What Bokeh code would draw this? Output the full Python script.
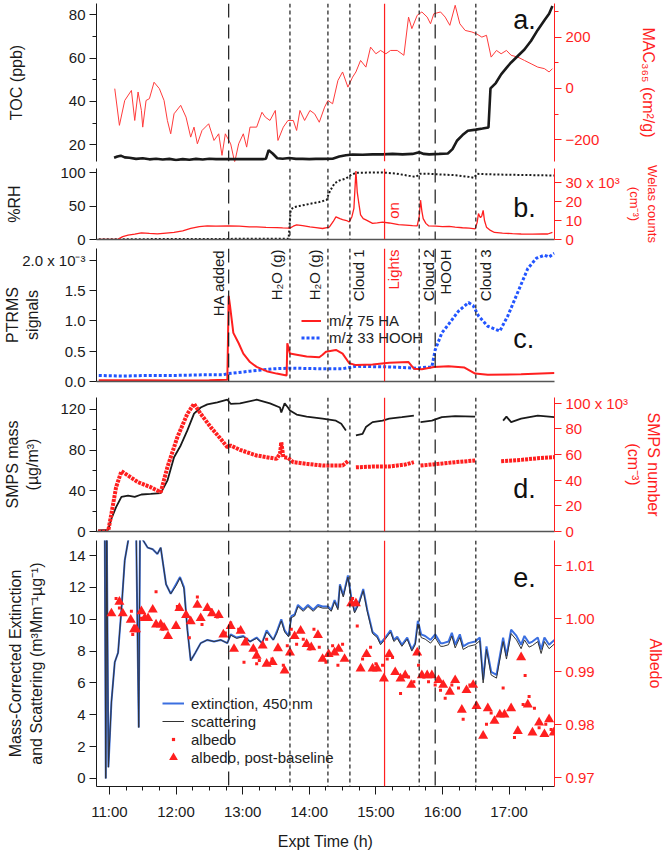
import math
from bokeh.plotting import figure
from bokeh.layouts import column
from bokeh.models import (Range1d, LinearAxis, SingleIntervalTicker, FixedTicker,
                          PrintfTickFormatter, Span, Label, Legend, LegendItem,
                          ColumnDataSource)
from bokeh.embed import file_html
from bokeh.resources import INLINE
from bokeh.core.properties import value

NaN = float("nan")

# ---------------- data (time in decimal hours) ----------------
events_t = [12.79, 13.71, 14.28, 14.61, 15.13, 15.65, 15.89, 16.50]
events_lbl = ["HA added", "H\u2082O (g)", "H\u2082O (g)", "Cloud 1", "Lights", "Cloud 2", "HOOH", "Cloud 3"]
events_kind = ["long", "short", "short", "short", "lights", "short", "long", "short"]

hour_ticks = [11, 12, 13, 14, 15, 16, 17]
hour_labels = ["11:00", "12:00", "13:00", "14:00", "15:00", "16:00", "17:00"]

# panel a
toc_t = [11.07, 11.12, 11.17, 11.23, 11.3, 11.4, 11.5, 11.6, 11.7, 11.8, 11.9, 12.0, 12.1, 12.2, 12.3,
         12.4, 12.5, 12.6, 12.7, 12.8, 12.9, 13.0, 13.1, 13.2, 13.3, 13.35, 13.39, 13.45, 13.52, 13.6,
         13.7, 13.8, 13.9, 14.0, 14.1, 14.2, 14.35, 14.45, 14.55, 14.65, 14.8, 14.95, 15.1, 15.25, 15.4,
         15.55, 15.65, 15.72, 15.8, 15.95, 16.08, 16.15, 16.22, 16.3, 16.38, 16.5, 16.6, 16.69, 16.72, 16.8,
         16.88, 16.96, 17.03, 17.13, 17.23, 17.33, 17.43, 17.53, 17.6, 17.65]
toc_v = [14.0, 14.6, 15.0, 14.2, 14.0, 13.5, 13.8, 13.3, 13.6, 13.2, 13.5, 13.0, 13.4, 13.1, 13.5,
         13.2, 13.6, 13.4, 13.4, 13.4, 13.4, 13.4, 13.4, 13.4, 13.4, 13.6, 17.5, 16.0, 13.8, 13.6,
         13.9, 13.5, 13.5, 13.4, 13.5, 13.5, 13.6, 14.6, 15.2, 15.5, 15.4, 15.6, 15.6, 15.8, 15.6,
         15.8, 16.6, 15.8, 15.6, 15.8, 16.0, 18.0, 22.0, 24.5, 26.5, 27.0, 27.5, 28.0, 46.0, 48.5,
         52.5, 55.5, 58.0, 61.0, 64.0, 68.0, 73.0, 77.5, 80.5, 84.0]

mac_t = [11.08, 11.15, 11.23, 11.33, 11.38, 11.43, 11.48, 11.50, 11.55, 11.60,
         11.67, 11.75, 11.82, 11.87, 11.92, 11.97, 12.07, 12.15, 12.22, 12.27,
         12.32, 12.39, 12.49, 12.57, 12.64, 12.69, 12.74, 12.82, 12.88, 12.94,
         13.01, 13.06, 13.11, 13.21, 13.29, 13.34, 13.41, 13.49, 13.53, 13.61,
         13.68, 13.76, 13.81, 13.86, 13.93, 14.01, 14.08, 14.15, 14.23, 14.28,
         14.35, 14.43, 14.50, 14.58, 14.65, 14.70, 14.77, 14.85, 14.92, 15.00,
         15.07, 15.15, 15.22, 15.32, 15.42, 15.49, 15.54, 15.62, 15.69, 15.77,
         15.82, 15.87, 15.97, 16.04, 16.11, 16.19, 16.26, 16.34, 16.44, 16.51,
         16.59, 16.66, 16.73, 16.81, 16.88, 16.96, 17.03, 17.13, 17.23, 17.33,
         17.43, 17.53, 17.60, 17.65]
mac_v = [-1, -144, -47, -8, -125, -14, -86, -151, -47, -40,
         24, -1, -47, -125, -177, -99, -66, -112, -190, -151,
         -216, -164, -138, -203, -177, -261, -177, -216, -288, -216,
         -177, -229, -151, -151, -93, -112, -125, -86, -203, -151,
         -125, -125, -164, -86, -125, -86, -99, -132, -73, -47,
         -60, 31, 64, 5, 44, 64, 109, 83, 161, 135,
         148, 135, 148, 148, 129, 278, 233, 285, 298, 278,
         252, 291, 298, 278, 246, 324, 252, 226, 220, 213,
         200, 207, 122, 148, 135, 148, 129, 122, 109, 96,
         83, 77, 64, 77]

# panel b
rh_t = [10.84, 11.5, 12.0, 12.5, 13.0, 13.5, 13.69, 13.72, 13.76, 13.85, 13.95, 14.05, 14.15, 14.26,
        14.29, 14.32, 14.38, 14.45, 14.55, 14.62, 14.7, 14.9, 15.1, 15.3, 15.5, 15.6, 15.66, 15.8,
        16.0, 16.2, 16.4, 16.47, 16.52, 16.8, 17.1, 17.4, 17.68]
rh_v = [0.5, 0.5, 0.8, 0.8, 1.0, 1.0, 1.2, 44, 48, 50, 52, 54, 56, 59,
        68, 74, 84, 88, 91, 96, 99.5, 100, 100, 98.5, 95, 93.5, 98, 98,
        97, 96, 93.5, 92, 98, 97, 96.5, 96, 95.5]

welas_t = [10.84, 11.13, 11.2, 11.28, 11.38, 11.48, 11.6, 11.72, 11.85, 11.97,
           12.1, 12.22, 12.35, 12.47, 12.6, 12.79, 12.95, 13.1, 13.21, 13.35,
           13.51, 13.6, 13.71, 13.76, 13.81, 13.9, 14.01, 14.1, 14.2, 14.3,
           14.36, 14.4, 14.46, 14.5, 14.56, 14.6, 14.64, 14.67, 14.7, 14.72,
           14.74, 14.77, 14.81, 14.85, 14.95, 15.02, 15.1, 15.2, 15.34, 15.45,
           15.55, 15.62, 15.65, 15.67, 15.69, 15.71, 15.75, 15.79, 15.9, 16.0,
           16.1, 16.19, 16.3, 16.4, 16.49, 16.52, 16.54, 16.56, 16.57, 16.59,
           16.61, 16.63, 16.66, 16.72, 16.78, 16.9, 17.05, 17.18, 17.35, 17.5,
           17.58, 17.65]
welas_v = [0.0, 0.2, 1.5, 2.3, 2.8, 3.5, 3.2, 3.0, 3.4, 3.7,
           4.5, 5.8, 6.8, 7.2, 7.0, 7.2, 7.0, 6.6, 6.7, 6.4,
           6.3, 6.1, 6.0, 7.0, 7.7, 7.3, 6.7, 6.3, 5.8, 6.5,
           9.5, 11.9, 11.0, 10.5, 10.0, 9.2, 12.0, 16.4, 36.0, 25.0,
           20.0, 13.0, 11.0, 10.3, 8.5, 8.8, 9.2, 8.7, 7.8, 7.6,
           7.3, 7.2, 12.0, 20.7, 15.0, 11.0, 8.5, 7.2, 7.0, 6.8,
           6.9, 6.5, 6.2, 6.0, 5.6, 9.0, 13.7, 12.0, 11.5, 12.5,
           15.3, 10.0, 6.5, 4.8, 3.7, 3.4, 3.1, 2.9, 2.8, 2.9,
           2.9, 3.8]

# panel c (x 10^-3)
ha_t = [10.84, 11.5, 12.0, 12.5, 12.77, 12.79, 12.81, 12.86, 12.94, 13.01, 13.11, 13.21, 13.36, 13.51,
        13.66, 13.67, 13.71, 13.81, 13.96, 14.15, 14.2, 14.25, 14.4, 14.5, 14.6, 14.7, 14.95, 15.2,
        15.49, 15.57, 15.69, 15.87, 16.09, 16.33, 16.49, 16.68, 17.18, 17.68]
ha_v = [0.02, 0.02, 0.015, 0.02, 0.03, 1.41, 1.25, 0.80, 0.63, 0.46, 0.32, 0.24, 0.17, 0.13,
        0.10, 0.63, 0.46, 0.44, 0.41, 0.40, 0.44, 0.49, 0.52, 0.46, 0.30, 0.27, 0.28, 0.31,
        0.32, 0.21, 0.20, 0.24, 0.25, 0.23, 0.13, 0.11, 0.12, 0.14]
hooh_t = [10.84, 11.2, 11.6, 12.0, 12.4, 12.7, 12.79, 13.11, 13.46, 13.71, 14.2, 14.5, 14.7, 15.2,
          15.59, 15.84, 15.89, 15.99, 16.09, 16.24, 16.39, 16.46, 16.54, 16.68, 16.86, 16.98, 17.13,
          17.28, 17.41, 17.53, 17.6, 17.68]
hooh_v = [0.10, 0.09, 0.10, 0.10, 0.11, 0.11, 0.13, 0.17, 0.21, 0.22, 0.21, 0.21, 0.25, 0.24,
          0.22, 0.24, 0.52, 0.80, 0.94, 1.16, 1.30, 1.25, 1.08, 0.91, 0.83, 1.08, 1.47,
          1.86, 2.03, 2.08, 2.05, 2.11]

# panel d
mass_t = [10.83, 10.98, 11.03, 11.10, 11.18, 11.28, 11.38, 11.48, 11.62, 11.77,
          11.87, 11.97, 12.07, 12.17, 12.27, 12.37, 12.47, 12.62, 12.77, 12.82,
          12.96, 13.21, 13.41, 13.56, 13.58, 13.63, 13.68, 13.71, 13.81, 13.96,
          14.20, 14.40, 14.48, 14.55, 14.62, 14.70, 14.80, 14.85, 14.95, 15.10,
          15.20, 15.39, 15.57, 15.62, 15.67, 15.84, 15.99, 16.19, 16.49, 16.70,
          16.91, 16.96, 17.03, 17.18, 17.43, 17.68]
mass_v = [1, 1.6, 12.5, 24, 34, 35.4, 34, 36.4, 37, 37.7,
          50, 73, 84.6, 99.4, 116, 122, 125, 127, 129.6, 125.6,
          126, 129.6, 126, 122, 117, 126, 122, 119, 115, 113,
          111, 109, 106, 99.4, NaN, 94.5, 96, 102.7, 107.6, 109,
          111, 112.5, 114, NaN, 107.6, 109, 112.5, 113.5, 113, NaN,
          109, 113, 107.6, 111, 114, 112.5]
num_t = [10.83, 10.98, 11.03, 11.10, 11.18, 11.28, 11.43, 11.62, 11.77, 11.87,
         12.02, 12.17, 12.27, 12.37, 12.52, 12.67, 12.77, 12.82, 12.96, 13.21,
         13.51, 13.56, 13.58, 13.61, 13.68, 13.76, 13.96, 14.20, 14.50, 14.58,
         14.62, 14.70, 14.95, 15.20, 15.44, 15.57, 15.62, 15.67, 15.94, 16.19,
         16.49, 16.70, 16.88, 17.18, 17.43, 17.68]
num_v = [0, 0, 13.8, 34.5, 47, 43.6, 38.4, 34.5, 30.6, 50,
         73.5, 91.7, 99.5, 91.7, 81.3, 72.2, 65.7, 67, 63.6, 59.2,
         56.6, 60.5, 69.6, 58, 57.4, 54, 52.7, 51.4, 51.4, 54.8,
         NaN, 50, 50.6, 50.6, 52.2, 54, NaN, 51.4, 52.7, 54,
         55.3, NaN, 54.8, 55.8, 57.1, 58]

# panel e
ext_t = [10.93, 10.945, 10.96, 10.985, 11.03, 11.08, 11.13, 11.18, 11.23, 11.28,
         11.32, 11.40, 11.44, 11.46, 11.50, 11.575, 11.65, 11.72, 11.77, 11.85,
         11.92, 12.0, 12.06, 12.12, 12.17, 12.22, 12.29, 12.37, 12.47, 12.57,
         12.67, 12.77, 12.82, 12.91, 13.01, 13.11, 13.21, 13.29, 13.36, 13.46,
         13.51, 13.58, 13.63, 13.69, 13.73, 13.78, 13.83, 13.91, 13.98, 14.06,
         14.13, 14.20, 14.28, 14.33, 14.38, 14.43, 14.46, 14.51, 14.58, 14.63,
         14.68, 14.75, 14.81, 14.87, 14.95, 15.02, 15.07, 15.15, 15.22, 15.27,
         15.32, 15.39, 15.47, 15.54, 15.59, 15.63, 15.68, 15.74, 15.82, 15.89,
         15.97, 16.01, 16.09, 16.14, 16.19, 16.26, 16.31, 16.39, 16.49, 16.56,
         16.61, 16.66, 16.73, 16.81, 16.91, 16.96, 17.03, 17.11, 17.18, 17.23,
         17.30, 17.35, 17.43, 17.48, 17.53, 17.60, 17.68]
ext_v = [16, 0.0, 16, 0.7, 4.8, 7.3, 7.9, 10.6, 13.7, 14.9,
         16, 16, 3.2, 16, 15.0, 14.5, 14.4, 14.1, 14.5, 12.2,
         11.6, 12.2, 12.65, 12.0, 9.4, 7.4, 7.9, 8.5, 8.7, 8.6,
         8.7, 8.5, 9.05, 8.85, 8.95, 8.6, 8.85, 8.5, 9.3, 8.7,
         9.2, 10.0, 9.3, 8.95, 10.2, 10.3, 10.9, 10.6, 10.9, 10.6,
         10.9, 10.8, 10.8, 10.6, 11.2, 10.7, 12.2, 11.5, 12.75, 11.4,
         10.5, 11.1, 11.9, 10.6, 9.2, 8.95, 8.5, 8.9, 9.3, 8.7,
         8.9, 8.4, 8.85, 8.1, 8.5, 9.9, 9.05, 8.95, 8.7, 9.05,
         8.5, 8.5, 8.6, 9.15, 8.4, 9.05, 8.3, 8.5, 8.6, 8.85,
         6.2, 8.3, 6.7, 6.5, 8.85, 7.7, 9.35, 8.95, 8.4, 8.95,
         8.5, 8.6, 8.85, 8.1, 8.85, 8.4, 8.7]
scat_v = [16, 0.0, 16, 0.7, 4.8, 7.3, 7.9, 10.6, 13.7, 14.9,
          16, 16, 3.2, 16, 15.0, 14.5, 14.4, 14.1, 14.5, 12.2,
          11.6, 12.1, 12.6, 11.9, 9.3, 7.4, 7.9, 8.5, 8.7, 8.6,
          8.7, 8.5, 9.0, 8.8, 8.9, 8.6, 8.8, 8.5, 9.2, 8.7,
          9.1, 9.9, 9.2, 8.9, 10.1, 10.2, 10.8, 10.5, 10.8, 10.5,
          10.8, 10.7, 10.7, 10.5, 11.1, 10.6, 12.1, 11.4, 12.65, 11.3,
          10.4, 11.0, 11.8, 10.5, 9.1, 8.85, 8.4, 8.8, 9.2, 8.6,
          8.8, 8.3, 8.75, 8.0, 8.4, 9.7, 8.85, 8.75, 8.5, 8.85,
          8.3, 8.3, 8.4, 8.95, 8.2, 8.85, 8.1, 8.3, 8.4, 8.65,
          6.0, 8.1, 6.5, 6.3, 8.6, 7.5, 9.1, 8.7, 8.15, 8.7,
          8.25, 8.35, 8.6, 7.85, 8.6, 8.15, 8.45]

alb_t = [11.10, 11.15, 11.33, 11.35, 11.48, 11.70, 11.80, 12.02, 12.20, 12.32,
         12.39, 12.52, 12.62, 12.74, 12.82, 12.94, 13.02, 13.06, 13.21, 13.25,
         13.36, 13.44, 13.61, 13.67, 13.73, 13.81, 13.91, 14.01, 14.07, 14.15,
         14.25, 14.35, 14.43, 14.50, 14.65, 14.72, 14.80, 14.92, 15.00, 15.10,
         15.17, 15.25, 15.37, 15.49, 15.57, 15.64, 15.72, 15.79, 15.89, 15.97,
         16.04, 16.14, 16.24, 16.31, 16.41, 16.66, 16.73, 16.91, 17.08, 17.21,
         17.24, 17.30, 17.38, 17.45, 17.55, 17.63]
alb_v = [1.0038, 1.0020, 1.0014, 0.9970, 1.0001, 1.0051, 0.9980, 1.0023, 0.9964, 1.0041,
         0.9989, 1.0017, 1.0003, 0.9973, 0.9992, 0.9980, 0.9918, 0.9961, 0.9915, 0.9921,
         0.9961, 0.9924, 0.9912, 0.9949, 0.9980, 0.9952, 0.9961, 0.9943, 0.9980, 0.9946,
         0.9918, 0.9949, 0.9912, 0.9952, 1.0038, 0.9986, 0.9924, 0.9946, 0.9915, 0.9912,
         0.9924, 0.9927, 0.9859, 0.9890, 0.9881, 0.9912, 0.9890, 0.9881, 0.9875, 0.9865,
         0.9850, 0.9875, 0.9869, 0.9810, 0.9875, 0.9801, 0.9822, 0.9869, 0.9776, 0.9838,
         0.9893, 0.9853, 0.9831, 0.9794, 0.9801, 0.9791]

tri_t = [11.03, 11.15, 11.20, 11.32, 11.37, 11.40, 11.48, 11.53, 11.58, 11.65,
         11.70, 11.77, 11.82, 11.88, 12.00, 12.05, 12.15, 12.22, 12.32, 12.37,
         12.47, 12.54, 12.64, 12.71, 12.82, 12.87, 12.97, 13.04, 13.16, 13.21,
         13.30, 13.36, 13.45, 13.53, 13.63, 13.71, 13.78, 13.87, 13.96, 14.03,
         14.13, 14.20, 14.29, 14.38, 14.44, 14.53, 14.63, 14.70, 14.77, 14.86,
         14.95, 15.02, 15.12, 15.20, 15.29, 15.37, 15.44, 15.53, 15.62, 15.69,
         15.77, 15.84, 15.94, 16.01, 16.11, 16.19, 16.29, 16.36, 16.46, 16.51,
         16.61, 16.68, 16.78, 16.86, 16.93, 17.03, 17.13, 17.18, 17.28, 17.35,
         17.45, 17.53, 17.60, 17.67]
tri_v = [1.0010, 1.0032, 1.0010, 0.9998, 0.9980, 0.9980, 1.0014, 1.0001, 1.0001, 1.0017,
         0.9989, 0.9989, 0.9983, 0.9967, 0.9986, 1.0020, 1.0007, 0.9995, 1.0026, 1.0001,
         1.0020, 1.0010, 1.0007, 0.9970, 0.9986, 0.9943, 0.9977, 0.9955, 0.9943, 0.9930,
         0.9949, 0.9915, 0.9918, 0.9944, 0.9902, 0.9936, 0.9967, 0.9977, 0.9952, 0.9946,
         0.9969, 0.9924, 0.9933, 0.9936, 0.9943, 0.9924, 1.0029, 1.0029, 0.9906, 0.9933,
         0.9906, 0.9906, 0.9887, 0.9933, 0.9899, 0.9887, 0.9893, 0.9875, 0.9936, 0.9893,
         0.9893, 0.9893, 0.9884, 0.9875, 0.9862, 0.9884, 0.9828, 0.9865, 0.9875, 0.9835,
         0.9779, 0.9831, 0.9807, 0.9819, 0.9819, 0.9831, 0.9788, 0.9927, 0.9838, 0.9785,
         0.9804, 0.9782, 0.9810, 0.9785]

# ---------------- layout / style ----------------
FONT = "Liberation Sans"
RED = "#ff1f1f"
BLK = "#1a1a1a"
BLUE = "#2255ff"
W = 666
PXH = 67.2                 # pixels per hour
T_AX = 17.681              # time at the right axes
L_B, R_B = 95, 109         # frame borders (frames are aligned in the column)
x_all = Range1d(T_AX - (W - L_B - R_B) / PXH, T_AX)


def make_fig(height, yr, top, bottom):
    p = figure(width=W, height=height, x_range=x_all, y_range=yr,
               output_backend="svg", toolbar_location=None,
               x_axis_location=None, y_axis_location=None,
               min_border_top=top, min_border_bottom=bottom,
               min_border_left=L_B, min_border_right=R_B)
    p.outline_line_color = None
    p.grid.visible = False
    p.background_fill_color = "white"
    p.border_fill_color = "white"
    return p


def style_axis(ax, color, label_standoff, tick_out=7, label_size="16px"):
    ax.axis_line_color = color
    ax.major_tick_line_color = color
    ax.minor_tick_line_color = color
    ax.major_tick_out = tick_out
    ax.major_tick_in = 0
    ax.minor_tick_out = 4
    ax.minor_tick_in = 0
    ax.major_label_standoff = 4
    ax.major_label_text_font = FONT
    ax.major_label_text_font_size = "15px"
    ax.major_label_text_color = color
    ax.axis_label_text_font = FONT
    ax.axis_label_text_font_size = label_size
    ax.axis_label_text_font_style = "normal"
    ax.axis_label_text_color = color
    ax.axis_label_standoff = label_standoff


def add_left(p, ticker, label, standoff, overrides=None, fmt=None):
    ax = LinearAxis(ticker=ticker, axis_label=label)
    style_axis(ax, BLK, standoff)
    if fmt:
        ax.formatter = PrintfTickFormatter(format=fmt)
    if overrides:
        ax.major_label_overrides = overrides
    p.add_layout(ax, "left")
    return ax


def add_right(p, ticker, label, standoff, overrides=None, fmt=None, label_size="16px"):
    ax = LinearAxis(y_range_name="r", ticker=ticker, axis_label=label)
    style_axis(ax, RED, standoff, label_size=label_size)
    if fmt:
        ax.formatter = PrintfTickFormatter(format=fmt)
    if overrides:
        ax.major_label_overrides = overrides
    p.add_layout(ax, "right")
    return ax


def add_base_line(p):
    ax = LinearAxis(ticker=FixedTicker(ticks=[]))
    ax.axis_line_color = "#555555"
    ax.axis_line_width = 1.5
    ax.major_tick_out = 0
    ax.major_tick_in = 0
    ax.minor_tick_out = 0
    ax.minor_tick_in = 0
    ax.major_label_standoff = 0
    ax.major_label_text_font_size = "0px"
    p.add_layout(ax, "below")


def add_events(p):
    for t, k in zip(events_t, events_kind):
        if k == "lights":
            p.add_layout(Span(location=t, dimension="height", line_color=RED, line_width=1.2))
        else:
            p.add_layout(Span(location=t, dimension="height", line_color=BLK, line_width=1.2,
                              line_dash="14 7" if k == "long" else "4 3"))


def panel_letter(p, t, y, txt):
    p.add_layout(Label(x=t, y=y, text=txt, text_font=FONT, text_font_size="27px",
                       text_align="left", text_baseline="top", text_color="#111111"))


# ---------- panel a ----------
pa = make_fig(162, Range1d(12.3, 85.2), 3, 1)
pa.extra_y_ranges = {"r": Range1d(-285, 331)}
add_events(pa)
pa.line(mac_t, mac_v, y_range_name="r", line_color="#ff3b3b", line_width=1)
pa.line(toc_t, toc_v, line_color=BLK, line_width=2.6)
add_left(pa, SingleIntervalTicker(interval=20, num_minor_ticks=2), "TOC (ppb)", 41)
add_right(pa, SingleIntervalTicker(interval=200, num_minor_ticks=2),
          "MAC\u2083\u2086\u2085 (cm\u00b2/g)", 38)
panel_letter(pa, 17.06, 84.3, "a.")

# ---------- panel b ----------
pb = make_fig(86, Range1d(0, 106), 6, 9)
pb.extra_y_ranges = {"r": Range1d(0, 37.4)}
add_events(pb)
pb.line(rh_t, rh_v, line_color=BLK, line_width=2, line_dash="2 2")
pb.line(welas_t, welas_v, y_range_name="r", line_color=RED, line_width=1.3)
add_left(pb, FixedTicker(ticks=[0, 50, 100]), "%RH", 34)
add_right(pb, FixedTicker(ticks=[0, 10, 20, 30]), "Welas counts\n(cm\u207b\u00b3)", 4,
          overrides={30: "30 x 10\u00b3"}, label_size="13px")
add_base_line(pb)
pb.text(x=[events_t[4]], y=[31], text=["on"], x_offset=9, angle=math.pi / 2,
        text_align="left", text_baseline="middle", text_color=RED,
        text_font=value(FONT), text_font_size=value("15px"))
panel_letter(pb, 17.06, 70, "b.")

# ---------- panel c ----------
c_top = 2.19
pc = make_fig(143, Range1d(0, c_top), 0, 10)
add_events(pc)
hooh_r = pc.line(hooh_t, hooh_v, line_color=BLUE, line_width=3, line_dash="3 2")
ha_r = pc.line(ha_t, ha_v, line_color=RED, line_width=2)
add_left(pc, FixedTicker(ticks=[0, 0.5, 1, 1.5, 2]), "PTRMS\nsignals", -22, fmt="%.1f",
         overrides={2: "2.0 x 10\u207b\u00b3"})
add_base_line(pc)
label_dx = [-10, -13.5, -13, 9, 9, 9, 10, 10]
label_col = [RED if k == "lights" else BLK for k in events_kind]
ev_src = ColumnDataSource(dict(x=events_t, y=[c_top] * len(events_t), text=events_lbl,
                               dx=label_dx, col=label_col))
pc.text(x="x", y="y", text="text", x_offset="dx", y_offset=1, angle=math.pi / 2,
        text_align="right", text_baseline="middle", text_color="col",
        text_font=value(FONT), text_font_size=value("15px"), source=ev_src)
leg_c = Legend(items=[LegendItem(label="m/z 75 HA", renderers=[ha_r]),
                      LegendItem(label="m/z 33 HOOH", renderers=[hooh_r])],
               location=(205, 35), padding=0, margin=0, spacing=0,
               glyph_width=20, glyph_height=17, label_height=17, label_standoff=8,
               label_text_font=FONT, label_text_font_size="15px", label_text_color="#222222",
               background_fill_alpha=0, border_line_color=None)
pc.add_layout(leg_c)
panel_letter(pc, 17.06, 0.95, "c.")

# ---------- panel d ----------
pd = make_fig(149, Range1d(0, 131.8), 6, 9)
pd.extra_y_ranges = {"r": Range1d(0, 104.4)}
add_events(pd)
pd.line(mass_t, mass_v, line_color=BLK, line_width=1.8)
pd.line(num_t, num_v, y_range_name="r", line_color=RED, line_width=4, line_dash="3 1")
add_left(pd, SingleIntervalTicker(interval=40, num_minor_ticks=2), "SMPS mass\n(\u00b5g/m\u00b3)", 16)
add_right(pd, FixedTicker(ticks=[0, 20, 40, 60, 80, 100]), "SMPS number\n(cm\u207b\u00b3)", -6,
          overrides={100: "100 x 10\u00b3"})
add_base_line(pd)
panel_letter(pd, 17.06, 57, "d.")

# ---------- panel e ----------
pe = make_fig(312, Range1d(-0.51, 14.95), 0, 62)
pe.extra_y_ranges = {"r": Range1d(0.96833, 1.01476)}
add_events(pe)
ext_r = pe.line(ext_t, ext_v, line_color="#3b6fe0", line_width=2)
scat_r = pe.line(ext_t, scat_v, line_color="#333333", line_width=1)
dot_r = pe.scatter(alb_t, alb_v, y_range_name="r", marker="square", size=3,
                   fill_color=RED, line_color=None)
tri_r = pe.scatter(tri_t, tri_v, y_range_name="r", marker="triangle", size=10,
                   fill_color=RED, line_color=None)
add_left(pe, SingleIntervalTicker(interval=2, num_minor_ticks=0),
         "Mass-Corrected Extinction\nand Scattering (m\u00b3Mm\u207b\u00b9\u00b5g\u207b\u00b9)", 21)
add_right(pe, FixedTicker(ticks=[0.97, 0.98, 0.99, 1.00, 1.01]), "Albedo", 49, fmt="%.2f")
xa = LinearAxis(ticker=SingleIntervalTicker(interval=1, num_minor_ticks=4), axis_label="Expt Time (h)")
style_axis(xa, BLK, 10, tick_out=8)
xa.major_label_standoff = 8
xa.major_label_overrides = dict(zip(hour_ticks, hour_labels))
pe.add_layout(xa, "below")
leg_e1 = Legend(items=[LegendItem(label="extinction, 450 nm", renderers=[ext_r]),
                       LegendItem(label="scattering", renderers=[scat_r]),
                       LegendItem(label="albedo", renderers=[dot_r])],
                location=(66, 38), padding=0, margin=0, spacing=0,
                glyph_width=22, glyph_height=8, label_height=18, label_standoff=7,
                label_text_font=FONT, label_text_font_size="15px", label_text_color="#222222",
                background_fill_alpha=0, border_line_color=None)
leg_e2 = Legend(items=[LegendItem(label="albedo, post-baseline", renderers=[tri_r])],
                location=(66, 17), padding=0, margin=0, spacing=0,
                glyph_width=22, glyph_height=24, label_height=18, label_standoff=7,
                label_text_font=FONT, label_text_font_size="15px", label_text_color="#222222",
                background_fill_alpha=0, border_line_color=None)
pe.add_layout(leg_e1)
pe.add_layout(leg_e2)
panel_letter(pe, 17.06, 13.2, "e.")

layout = column(pa, pb, pc, pd, pe, spacing=0)
open("out.html", "w").write(file_html(layout, INLINE))
